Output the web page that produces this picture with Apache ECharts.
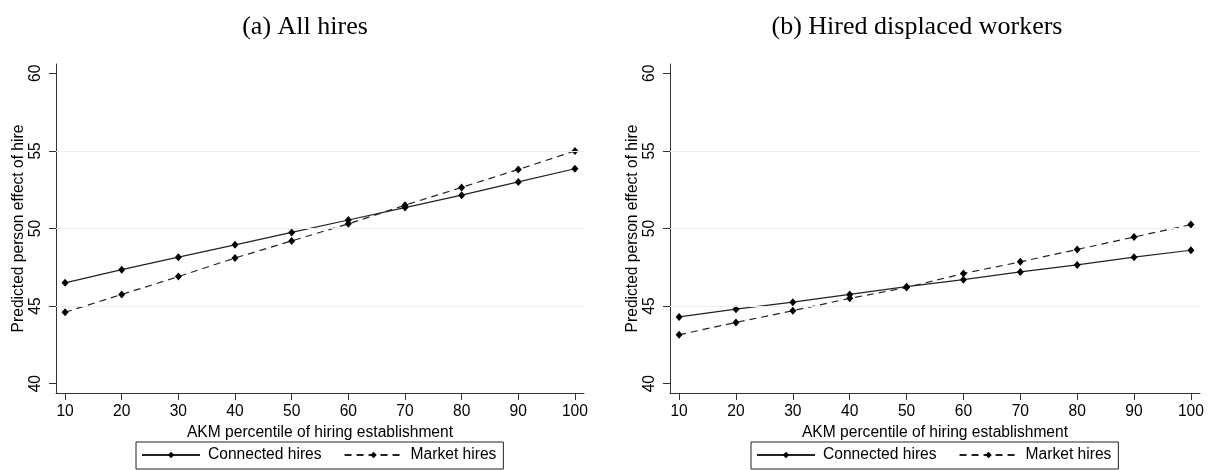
<!DOCTYPE html>
<html>
<head>
<meta charset="utf-8">
<script src="https://cdn.jsdelivr.net/npm/echarts@6/dist/echarts.min.js"></script>
<style>
html,body{margin:0;padding:0;background:#fff;}
#chart{width:1210px;height:470px;}
</style>
</head>
<body>
<div id="chart"></div>
<script>
// ---- data ----
const percentiles = [10, 20, 30, 40, 50, 60, 70, 80, 90, 100];
const allConnected = [46.5, 47.35, 48.15, 48.95, 49.75, 50.55, 51.35, 52.15, 53.0, 53.85];
const allMarket = [44.6, 45.75, 46.9, 48.1, 49.2, 50.3, 51.5, 52.65, 53.8, 55.0];
const displacedConnected = [44.3, 44.8, 45.25, 45.75, 46.25, 46.7, 47.2, 47.65, 48.15, 48.6];
const displacedMarket = [43.15, 43.95, 44.7, 45.5, 46.2, 47.1, 47.85, 48.65, 49.45, 50.25];
const yTicks = [40, 45, 50, 55, 60];
const xTicks = [10, 20, 30, 40, 50, 60, 70, 80, 90, 100];
const gridValues = [45, 50, 55];
const panelTitles = ['(a) All hires', '(b) Hired displaced workers'];
const seriesNames = ['Connected hires', 'Market hires'];
const xTitle = 'AKM percentile of hiring establishment';
const yTitle = 'Predicted person effect of hire';

const FONT = 'Liberation Sans, Arial, sans-serif';
const FS = 15.6;
const pair = (xs, ys) => xs.map((x, i) => [x, ys[i]]);

function xAxisFor(gi) {
  return {
    type: 'value', gridIndex: gi, min: 8.4, max: 101.6,
    name: xTitle, nameLocation: 'middle', nameGap: 23,
    nameTextStyle: {fontFamily: FONT, fontSize: FS, color: '#000'},
    axisLine: {show: true, onZero: false, lineStyle: {color: '#333', width: 1}},
    axisTick: {show: true, length: 7, customValues: xTicks, lineStyle: {color: '#333'}},
    axisLabel: {customValues: xTicks, margin: 11, fontFamily: FONT, fontSize: FS, color: '#000'},
    splitLine: {show: false}
  };
}
function yAxisFor(gi) {
  return {
    type: 'value', gridIndex: gi, min: 39.4, max: 60.6,
    name: yTitle, nameLocation: 'middle', nameGap: 27,
    nameTextStyle: {fontFamily: FONT, fontSize: FS, color: '#000'},
    axisLine: {show: true, onZero: false, lineStyle: {color: '#333', width: 1}},
    axisTick: {show: true, length: 7, customValues: yTicks, lineStyle: {color: '#333'}},
    axisLabel: {customValues: yTicks, rotate: 90, margin: 12, fontFamily: FONT, fontSize: FS, color: '#000'},
    splitLine: {show: false}
  };
}
function lineSeries(name, gi, data, dashed, withGrid) {
  const s = {
    name: name, type: 'line', xAxisIndex: gi, yAxisIndex: gi,
    data: pair(percentiles, data),
    symbol: 'diamond', symbolSize: [7, 8],
    itemStyle: {color: '#000'},
    lineStyle: {color: '#222', width: 1.2, type: dashed ? [7, 5] : 'solid'},
    z: 3, animation: false
  };
  if (withGrid) {
    s.markLine = {
      silent: true, symbol: 'none', label: {show: false}, animation: false,
      lineStyle: {color: '#eaeef5', width: 1, type: 'solid'},
      data: gridValues.map(v => ({yAxis: v}))
    };
  }
  return s;
}
function legendFor(left) {
  return {
    left: left, top: 442, orient: 'horizontal',
    data: seriesNames,
    itemWidth: 58, itemHeight: 8, itemGap: 22,
    padding: [5, 7, 6, 5],
    borderColor: '#222', borderWidth: 1, borderRadius: 0,
    textStyle: {fontFamily: FONT, fontSize: FS, color: '#000', padding: [0, 0, 0, 3]}
  };
}

const chart = echarts.init(document.getElementById('chart'), null, {renderer: 'canvas'});
chart.setOption({
  backgroundColor: '#fff',
  animation: false,
  title: [
    {text: panelTitles[0], left: 300, top: 9, textAlign: 'center',
     textStyle: {fontFamily: 'Liberation Serif, Times New Roman, serif', fontSize: 26, fontWeight: 'normal', color: '#000'}},
    {text: panelTitles[1], left: 912, top: 9, textAlign: 'center',
     textStyle: {fontFamily: 'Liberation Serif, Times New Roman, serif', fontSize: 26, fontWeight: 'normal', color: '#000'}}
  ],
  grid: [
    {left: 56, top: 64, width: 528, height: 329},
    {left: 670, top: 64, width: 530, height: 329}
  ],
  xAxis: [xAxisFor(0), xAxisFor(1)],
  yAxis: [yAxisFor(0), yAxisFor(1)],
  legend: [legendFor(136), legendFor(751)],
  series: [
    lineSeries(seriesNames[0], 0, allConnected, false, true),
    lineSeries(seriesNames[1], 0, allMarket, true, false),
    lineSeries(seriesNames[0], 1, displacedConnected, false, true),
    lineSeries(seriesNames[1], 1, displacedMarket, true, false)
  ]
});
</script>
</body>
</html>
